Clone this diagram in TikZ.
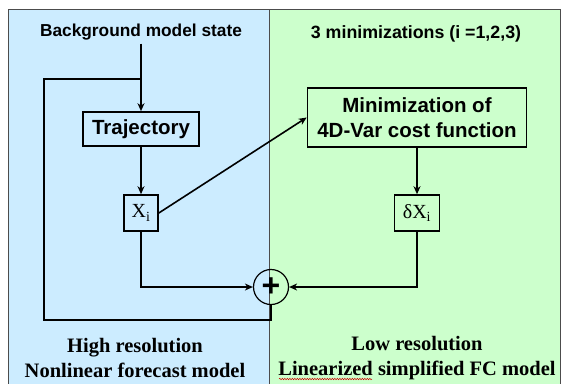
\documentclass[tikz,border=0pt]{standalone}
\usepackage{fontspec}
\setmainfont{Liberation Serif}
\setsansfont{Liberation Sans}
\usetikzlibrary{arrows.meta,decorations.pathmorphing}
\definecolor{hires}{RGB}{204,236,255}
\definecolor{lores}{RGB}{204,255,204}
\begin{document}
\begin{tikzpicture}[x=1pt,y=-1pt,
    box/.style={draw,line width=1.6pt,inner sep=0pt,align=center},
    flow/.style={line width=1.6pt},
    arr/.style={flow,-{Stealth[length=8pt,width=7pt,inset=2.5pt]}},
    hdr/.style={font=\sffamily\bfseries\fontsize{17.3}{20}\selectfont},
    big/.style={font=\sffamily\bfseries\fontsize{20.5}{25}\selectfont},
    foot/.style={font=\bfseries\fontsize{20.5}{25}\selectfont,align=center}]
  \useasboundingbox (0,0) rectangle (561,383);
  \fill[white] (0,0) rectangle (561,383);
  \filldraw[fill=hires,draw=black!70,line width=0.8pt] (8,9) rectangle (269,390);
  \filldraw[fill=lores,draw=black!70,line width=0.8pt] (269,9) rectangle (560,390);

  \node[hdr] (bg) at (141,32) {Background model state};
  \node[hdr,font=\sffamily\bfseries\fontsize{17.8}{21}\selectfont] (nmin) at (416,34) {3 minimizations (i =1,2,3)};
  \coordinate (split) at (141,79);
  \node[box,big,minimum width=116,minimum height=34] (traj) at (141,129) {Trajectory};
  \node[box,minimum width=34,minimum height=36,font=\fontsize{20}{24}\selectfont] (xi) at (141,213) {X\textsubscript{i}};
  \node[box,big,minimum width=219,minimum height=59] (min) at (417,117.5) {Minimization of\\4D-Var cost function};
  \node[box,minimum width=45,minimum height=36,font=\fontsize{20}{24}\selectfont] (dxi) at (417,213) {δX\textsubscript{i}};
  \node[draw,circle,line width=1.2pt,minimum size=35,inner sep=0pt,font=\sffamily\bfseries\fontsize{32}{32}\selectfont] (plus) at (271,287) {+};
  \node[foot] (hi) at (135,358) {High resolution\\Nonlinear forecast model};
  \node[foot] (lo) at (417,358) {Low resolution\\Linearized simplified FC model};

  \begin{scope}[flow]
    \draw (bg) -- (split);
    \draw (split) -| (44,320) -| (plus);
  \end{scope}
  \begin{scope}[arr]
    \draw (split) -- (traj);
    \draw (traj) -- (xi);
    \draw (xi.east) -- (min.west);
    \draw (min) -- (dxi);
    \draw (xi) |- (plus);
    \draw (dxi) |- (plus);
  \end{scope}
  \draw[red!80!black,line width=0.5pt,decorate,decoration={snake,amplitude=0.7pt,segment length=2.5pt}] (279,379) -- (372,379);
\end{tikzpicture}
\end{document}
